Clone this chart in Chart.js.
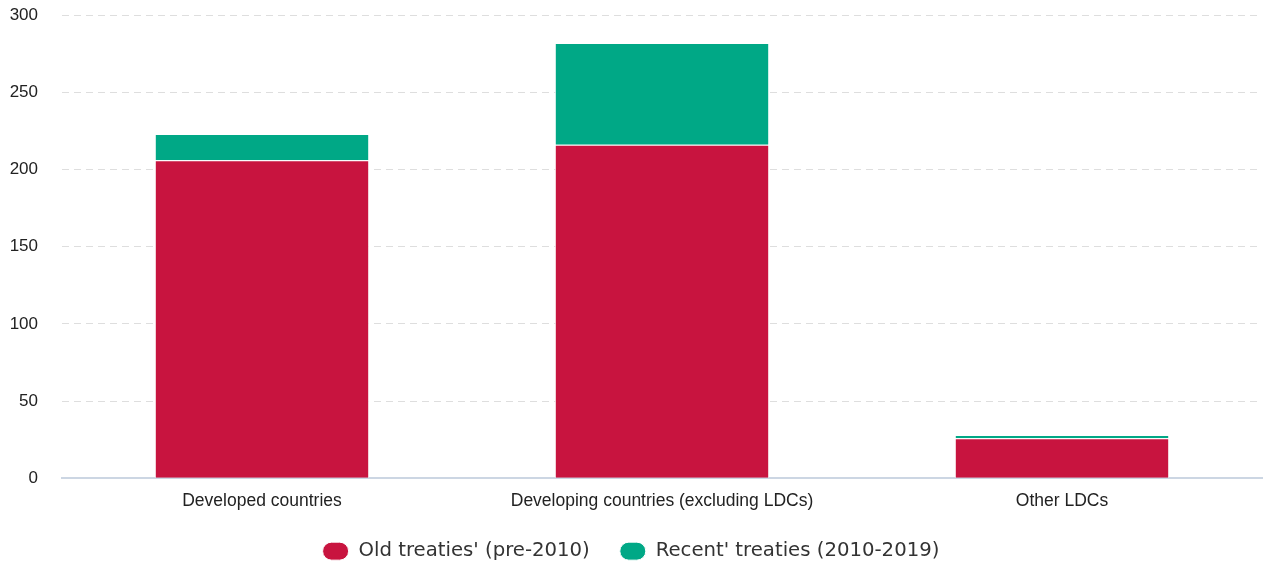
<!DOCTYPE html>
<html>
<head>
<meta charset="utf-8">
<script src="https://cdn.jsdelivr.net/npm/chart.js@4/dist/chart.umd.min.js"></script>
<style>
  html, body { margin: 0; padding: 0; background: #fff; overflow: hidden; }
  /* chart.js keeps a gap above the plot; pull the canvas up to match */
  #wrap { width: 1268px; height: 584px; margin-top: -19px; }
</style>
</head>
<body>
<div id="wrap"><canvas id="chart"></canvas></div>
<script>
const categories = ["Developed countries", "Developing countries (excluding LDCs)", "Other LDCs"];
const oldTreaties = [206, 216, 26];
const recentTreaties = [17, 66, 2];
const yTicks = [0, 50, 100, 150, 200, 250, 300];

const red = "#c8143f";
const green = "#00a886";

new Chart(document.getElementById("chart"), {
  type: "bar",
  data: {
    labels: categories,
    datasets: [
      {
        label: "Old treaties' (pre-2010)",
        data: oldTreaties,
        backgroundColor: red,
        borderColor: "#ffffff",
        borderWidth: 1,
        borderSkipped: "bottom",
        categoryPercentage: 0.8,
        barPercentage: 0.67
      },
      {
        label: "Recent' treaties (2010-2019)",
        data: recentTreaties,
        backgroundColor: green,
        borderColor: "#ffffff",
        borderWidth: 1,
        borderSkipped: "bottom",
        categoryPercentage: 0.8,
        barPercentage: 0.67
      }
    ]
  },
  options: {
    responsive: true,
    maintainAspectRatio: false,
    animation: false,
    layout: { padding: { left: 0, right: 6, top: 0, bottom: -6 } },
    plugins: {
      tooltip: { enabled: false },
      legend: {
        position: "bottom",
        labels: {
          font: { family: "DejaVu Sans", size: 19.7 },
          color: "#333333",
          boxWidth: 26,
          boxHeight: 18,
          useBorderRadius: true,
          borderRadius: 9,
          padding: 30
        }
      }
    },
    scales: {
      x: {
        stacked: true,
        afterFit: axis => { axis.height -= 12; },
        grid: { display: false, drawTicks: false },
        border: { display: true, color: "#ccd6e3", width: 2 },
        ticks: {
          font: { family: "Liberation Sans", size: 17.5 },
          color: "#222222",
          padding: 12,
          maxRotation: 0
        }
      },
      y: {
        stacked: true,
        min: 0,
        max: 300,
        afterBuildTicks: axis => { axis.ticks = yTicks.map(v => ({ value: v })); },
        afterFit: axis => { axis.width = 62; },
        grid: { color: "#dedede", drawTicks: false },
        border: { display: false, dash: [7, 5] },
        ticks: {
          font: { family: "Liberation Sans", size: 17 },
          color: "#222222",
          padding: 24
        }
      }
    }
  }
});
</script>
</body>
</html>
